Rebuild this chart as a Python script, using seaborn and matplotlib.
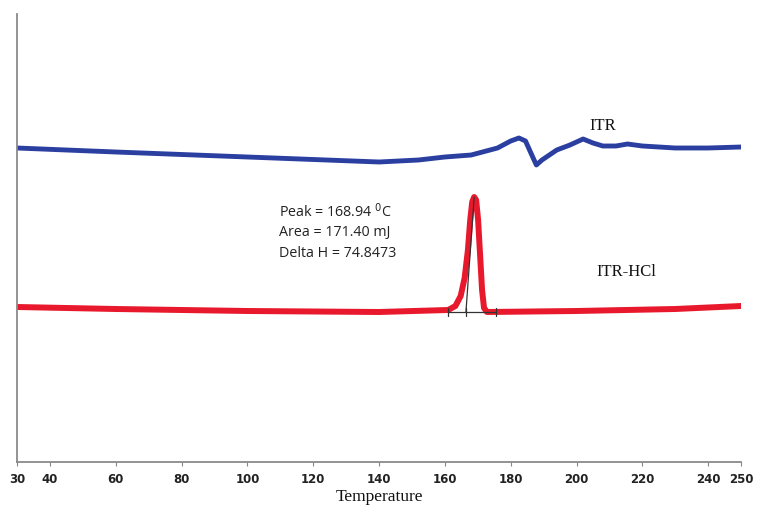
import matplotlib
matplotlib.use("Agg")
import matplotlib.pyplot as plt
import seaborn as sns
import pandas as pd

# Heat flow (arbitrary units) vs temperature (deg C)
itr_temp = [30, 60, 100, 140, 152, 160, 168, 176, 180, 182.5, 184.5, 186, 187.8,
            189.5, 194, 198, 202, 205, 208, 212, 215.5, 220, 230, 240, 250]
itr_flow = [314, 310, 305, 300, 302, 305, 307, 314, 321, 324, 321, 310, 297,
            302, 312, 317, 323, 319, 316, 316, 318, 316, 314, 314, 315]

hcl_temp = [30, 60, 100, 140, 161.0, 163.2, 164.8, 166.0, 167.0, 167.7, 168.3,
            168.9, 169.5, 170.1, 170.7, 171.3, 171.9, 172.8, 200, 230, 250]
hcl_flow = [155, 153, 151, 150, 152, 156, 166, 184, 212, 242, 260, 265, 262,
            242, 207, 172, 154, 150, 151, 153, 156]

# Peak integration construction (baseline and peak marker)
base_temp = [160.9, 175.6]
base_flow = [150, 150]
mark_temp = [160.9, 166.4, 175.6]
peak_line_temp = [166.4, 168.9]
peak_line_flow = [150, 265]

xticks = [30, 40, 60, 80, 100, 120, 140, 160, 180, 200, 220, 240, 250]
notes = ["Peak = 168.94 $^{0}$C", "Area = 171.40 mJ", "Delta H = 74.8473"]

sns.set_style("white")
fig = plt.figure(figsize=(7.59, 5.11), dpi=100)
ax = fig.add_axes([0.0224, 0.0959, 0.954, 0.8767])

df_itr = pd.DataFrame({"T": itr_temp, "Q": itr_flow})
df_hcl = pd.DataFrame({"T": hcl_temp, "Q": hcl_flow})
sns.lineplot(data=df_itr, x="T", y="Q", ax=ax, color="#2b3fa0", lw=3.5,
             sort=False, solid_capstyle="round", solid_joinstyle="round")
sns.lineplot(data=df_hcl, x="T", y="Q", ax=ax, color="#e8192c", lw=4.3,
             sort=False, solid_capstyle="round", solid_joinstyle="round")

ax.plot(base_temp, base_flow, color="#333333", lw=0.9)
ax.plot(peak_line_temp, peak_line_flow, color="#333333", lw=0.9)
for t in mark_temp:
    ax.plot([t, t], [146, 154], color="#333333", lw=0.9)

ax.set_xlim(30, 250)
ax.set_ylim(0, 448)
ax.set_xticks(xticks)
ax.set_xticklabels([str(t) for t in xticks], fontsize=8.5, fontweight="bold",
                   color="#222222", family="DejaVu Sans")
ax.set_yticks([])
ax.tick_params(axis="x", length=3, width=0.8, color="#888888", pad=5, direction="out")
ax.xaxis.set_ticks_position("bottom")
for s in ["top", "right"]:
    ax.spines[s].set_visible(False)
for s in ["left", "bottom"]:
    ax.spines[s].set_color("#8a8a8a")
    ax.spines[s].set_linewidth(1.3)

ax.set_xlabel("Temperature", family="Liberation Serif", fontsize=12.5,
              color="#111111", labelpad=2)
ax.set_ylabel("")

ax.text(208, 336, "ITR", family="Liberation Serif", fontsize=12, color="#111111",
        ha="center", va="center")
ax.text(215, 190, "ITR-HCl", family="Liberation Serif", fontsize=12, color="#111111",
        ha="center", va="center")
for i, line in enumerate(notes):
    ax.text(109.5, 250 - i * 21, line, family="Open Sans", fontsize=10.3,
            color="#222222", ha="left", va="center")

fig.savefig("out.png", dpi=100)
